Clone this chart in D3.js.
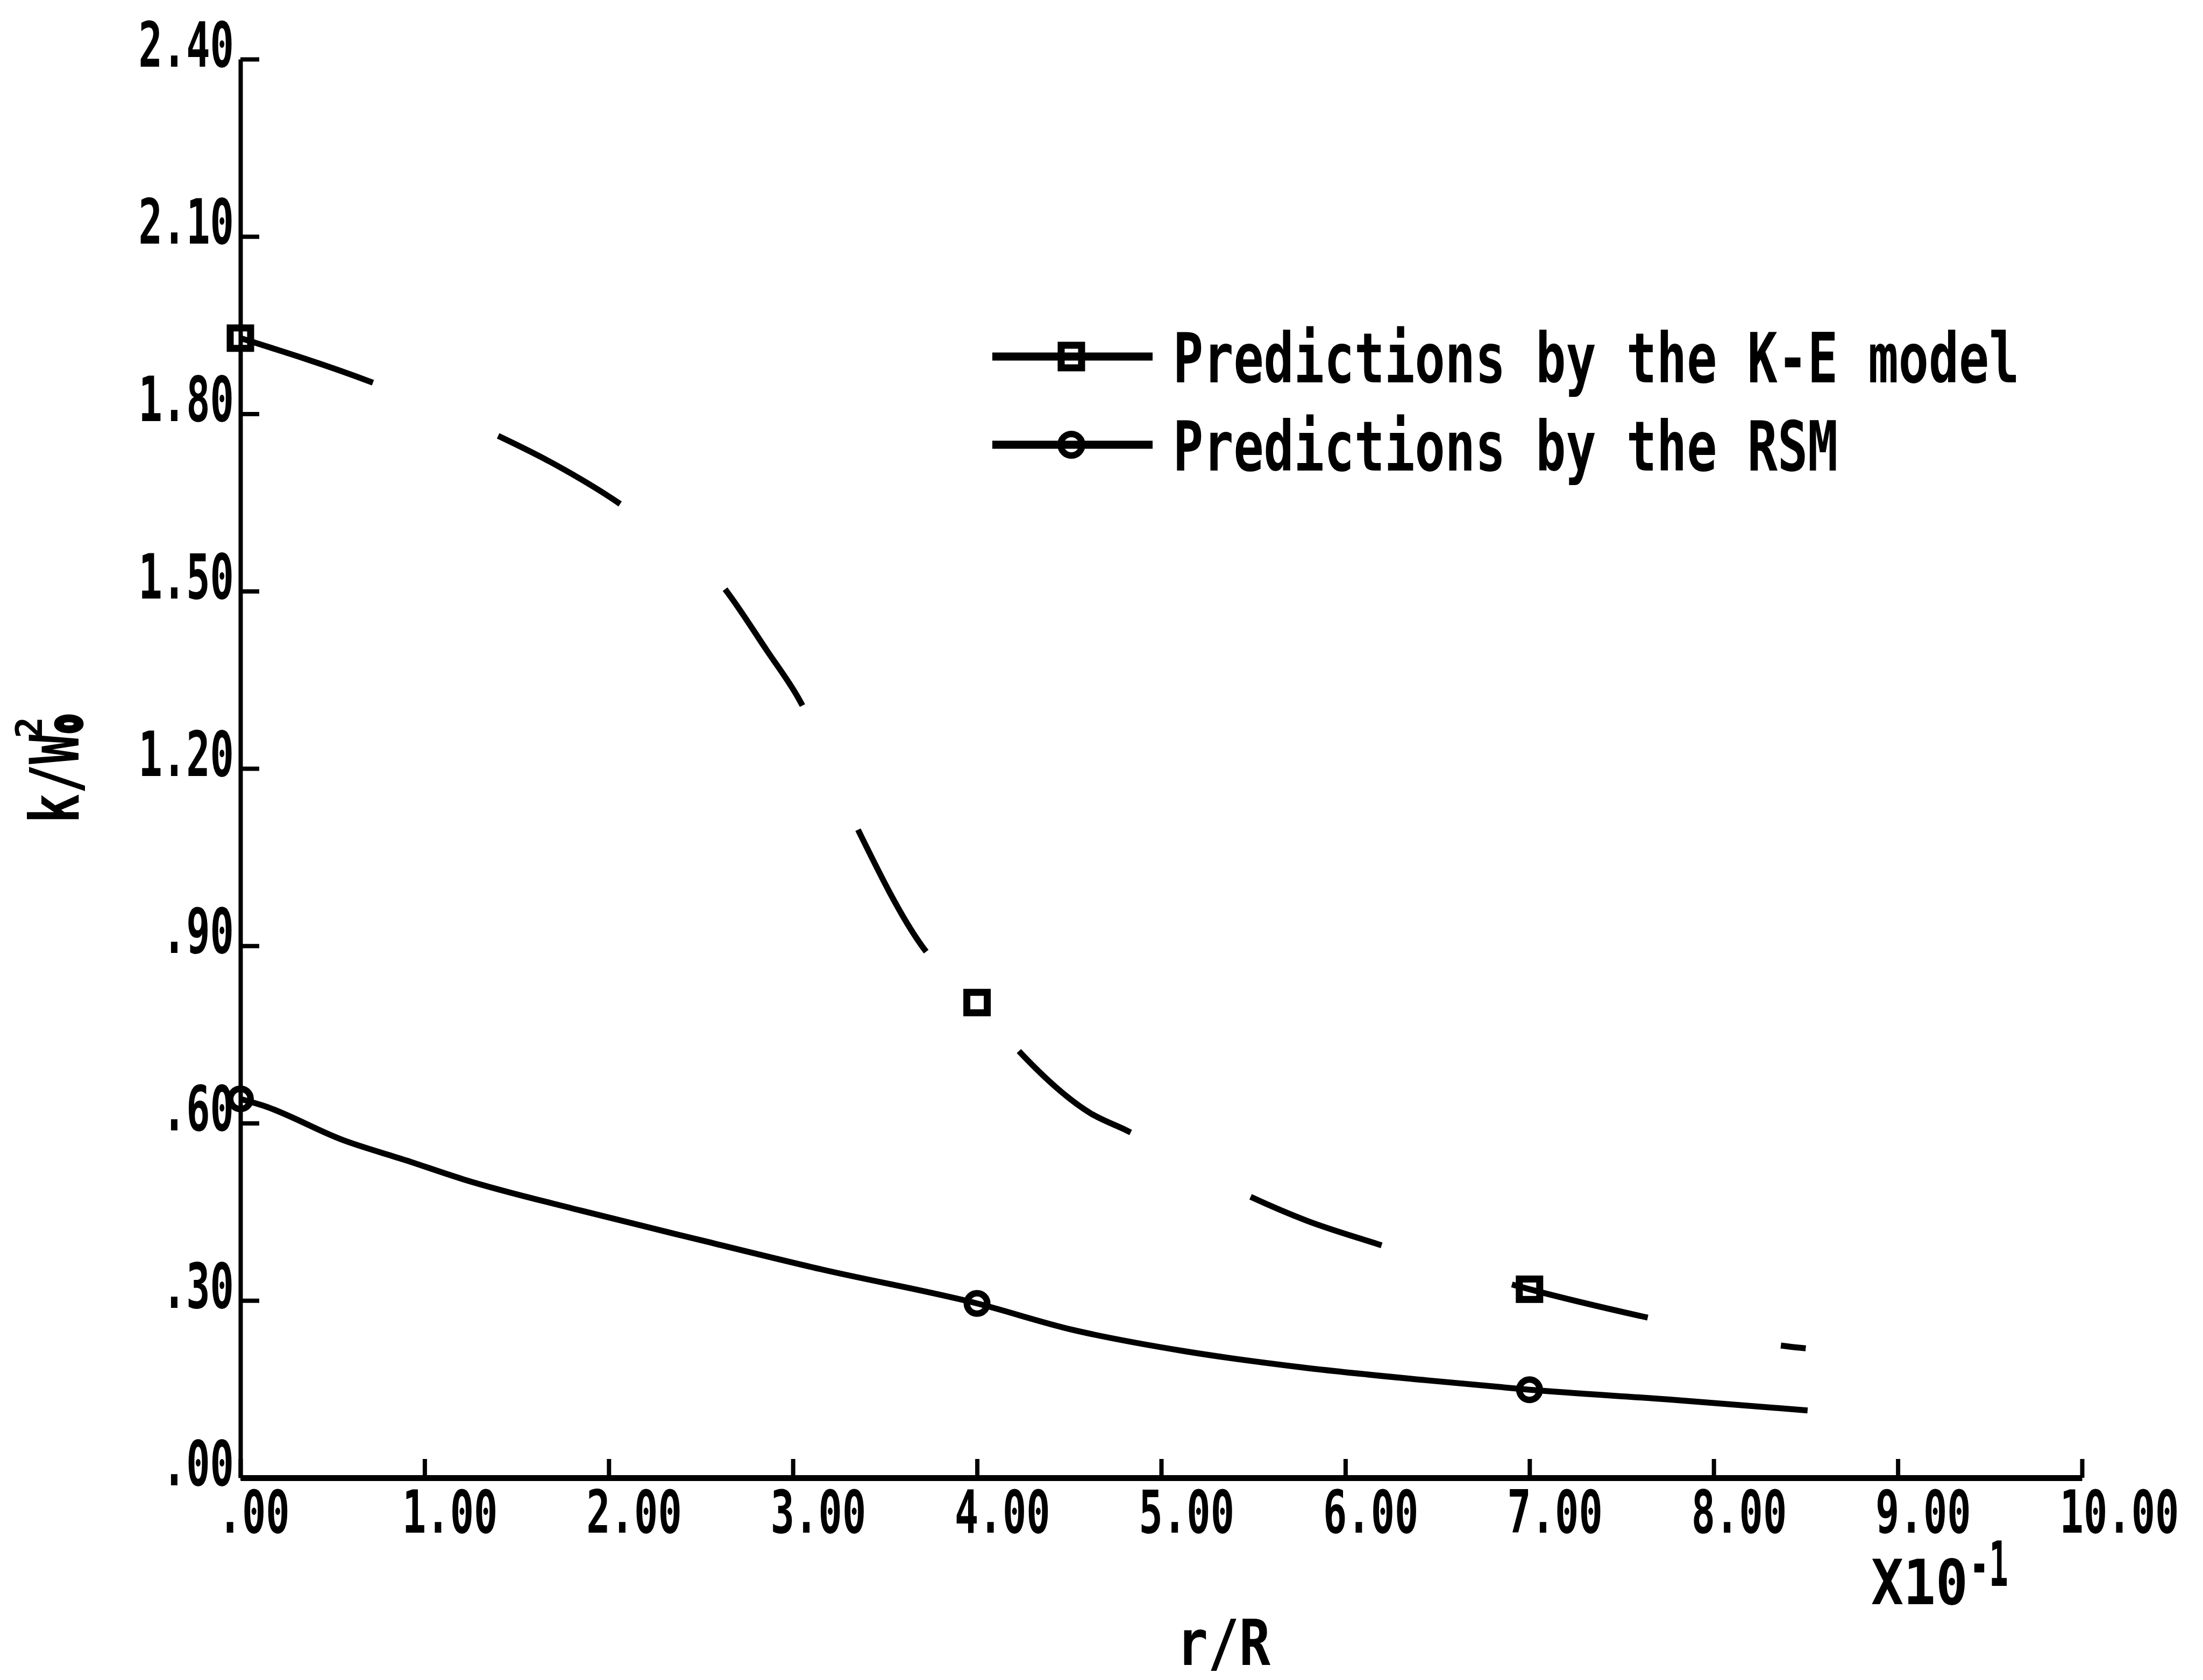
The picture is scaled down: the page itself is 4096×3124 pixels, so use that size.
<!DOCTYPE html>
<html>
<head>
<meta charset="utf-8">
<script src="https://cdn.jsdelivr.net/npm/d3@7"></script>
<style>
  body { margin: 0; background: #fff; }
  text { font-family: "DejaVu Sans Mono", "Liberation Mono", monospace; font-weight: bold; fill: #000; }
</style>
</head>
<body>
<div id="root"></div>
<script>
const width = 4096;
const height = 3124;

// axis ticks
const xTicks = [0, 1, 2, 3, 4, 5, 6, 7, 8, 9, 10];
const xTickLabels = [".00", "1.00", "2.00", "3.00", "4.00", "5.00", "6.00", "7.00", "8.00", "9.00", "10.00"];
const yTicks = [0, 0.3, 0.6, 0.9, 1.2, 1.5, 1.8, 2.1, 2.4];
const yTickLabels = [".00", ".30", ".60", ".90", "1.20", "1.50", "1.80", "2.10", "2.40"];

// K-E model curve (dashed) and its symbols
const keR = [0, 0.70, 1.37, 1.71, 2.05, 2.62, 2.86, 3.03, 3.34, 3.70, 4.00, 4.20, 4.62, 4.81, 5.46, 5.79, 6.17, 7.00, 7.67, 8.41, 8.50];
const keK = [1.928, 1.855, 1.767, 1.714, 1.650, 1.508, 1.399, 1.319, 1.105, 0.900, 0.804, 0.731, 0.616, 0.588, 0.479, 0.435, 0.396, 0.319, 0.269, 0.222, 0.219];
const keMarkR = [0, 4, 7];
const keMarkK = [1.928, 0.804, 0.319];

// RSM curve (solid) and its symbols
const rsmR = [0, 0.12, 0.56, 0.90, 1.21, 1.85, 2.50, 3.15, 4.00, 4.51, 5.13, 5.76, 6.44, 7.00, 7.78, 8.51];
const rsmK = [0.641, 0.630, 0.571, 0.537, 0.505, 0.452, 0.402, 0.353, 0.295, 0.251, 0.214, 0.187, 0.165, 0.149, 0.132, 0.114];
const rsmMarkR = [0, 4, 7];
const rsmMarkK = [0.641, 0.295, 0.149];

const seriesNames = ["Predictions by the K-E model", "Predictions by the RSM"];

const x = d3.scaleLinear().domain([0, 10]).range([447, 3871]);
const y = d3.scaleLinear().domain([0, 2.4]).range([2748, 110]);

const svg = d3.select("#root")
    .append("svg")
    .attr("width", width)
    .attr("height", height);

svg.append("rect")
    .attr("width", width)
    .attr("height", height)
    .attr("fill", "#fff");

// plotter font is narrow: squeeze a monospace face to the wanted advance
const MONO = 0.602;
const squeeze = (sel, tx, ty, fs, adv) => sel
    .attr("x", null).attr("y", null).attr("dy", null)
    .attr("font-size", fs)
    .attr("transform", `translate(${tx},${ty}) scale(${adv / (MONO * fs)},1)`);

// x axis, ticks pointing up
const xAxis = svg.append("g")
    .attr("transform", `translate(0,${y(0)})`)
    .call(d3.axisBottom(x).tickValues(xTicks).tickSize(-35).tickSizeOuter(0)
        .tickFormat((d, i) => xTickLabels[i]));
xAxis.select(".domain").attr("stroke", "#000").attr("stroke-width", 11);
xAxis.selectAll(".tick line").attr("stroke", "#000").attr("stroke-width", 8);
xAxis.selectAll(".tick text")
    .attr("text-anchor", "start")
    .call(squeeze, -42, 102, 111, 44.4);

// y axis, ticks pointing right
const yAxis = svg.append("g")
    .attr("transform", `translate(${x(0)},0)`)
    .call(d3.axisLeft(y).tickValues(yTicks).tickSize(-35).tickSizeOuter(0)
        .tickFormat((d, i) => yTickLabels[i]));
yAxis.select(".domain").attr("stroke", "#000").attr("stroke-width", 8);
yAxis.selectAll(".tick line").attr("stroke", "#000").attr("stroke-width", 8);
yAxis.selectAll(".tick text")
    .attr("text-anchor", "end")
    .call(squeeze, -12, 13, 115, 44.4);
svg.selectAll(".tick text").attr("fill", "#000").attr("font-family", null);

const line = d3.line()
    .x(d => x(d[0]))
    .y(d => y(d[1]))
    .curve(d3.curveMonotoneX);

svg.append("path")
    .datum(keR.map((r, i) => [r, keK[i]]))
    .attr("fill", "none")
    .attr("stroke", "#000")
    .attr("stroke-width", 11)
    .attr("stroke-dasharray", "260 253")
    .attr("d", line);

svg.append("path")
    .datum(rsmR.map((r, i) => [r, rsmK[i]]))
    .attr("fill", "none")
    .attr("stroke", "#000")
    .attr("stroke-width", 11)
    .attr("d", line);

svg.selectAll(".ke-mark")
    .data(keMarkR.map((r, i) => [r, keMarkK[i]]))
    .enter().append("rect")
    .attr("x", d => x(d[0]) - 19)
    .attr("y", d => y(d[1]) - 19)
    .attr("width", 38)
    .attr("height", 38)
    .attr("fill", "none")
    .attr("stroke", "#000")
    .attr("stroke-width", 13);

svg.selectAll(".rsm-mark")
    .data(rsmMarkR.map((r, i) => [r, rsmMarkK[i]]))
    .enter().append("circle")
    .attr("cx", d => x(d[0]))
    .attr("cy", d => y(d[1]))
    .attr("r", 19)
    .attr("fill", "none")
    .attr("stroke", "#000")
    .attr("stroke-width", 12);

// legend
const legend = svg.append("g").attr("transform", "translate(1845,663)");
seriesNames.forEach((name, i) => {
    const row = legend.append("g").attr("transform", `translate(0,${i * 164})`);
    row.append("line")
        .attr("x1", 0).attr("x2", 298)
        .attr("stroke", "#000").attr("stroke-width", 15);
    if (i === 0) {
        row.append("rect")
            .attr("x", 128).attr("y", -21).attr("width", 38).attr("height", 42)
            .attr("fill", "none").attr("stroke", "#000").attr("stroke-width", 13);
    } else {
        row.append("circle")
            .attr("cx", 147).attr("r", 20)
            .attr("fill", "none").attr("stroke", "#000").attr("stroke-width", 12);
    }
    row.append("text")
        .text(name)
        .call(squeeze, 336, 48, 129, 56.2);
});

// axis titles
svg.append("text")
    .attr("text-anchor", "middle")
    .text("r/R")
    .call(squeeze, 2275, 3096, 118, 58);

svg.append("text")
    .text("X10")
    .call(squeeze, 3479, 2983, 115, 60);
svg.append("text")
    .text("-1")
    .call(squeeze, 3662, 2949, 115, 36);

const yTitle = svg.append("g").attr("transform", "translate(146,1531) rotate(-90)");
yTitle.append("text")
    .text("k/W")
    .call(squeeze, 0, 0, 127, 55);
yTitle.append("text")
    .text("2")
    .call(squeeze, 158, -68, 68, 40);
yTitle.append("text")
    .attr("stroke", "#000")
    .attr("stroke-width", 9)
    .text("o")
    .call(squeeze, 168, 4, 81, 34);
</script>
</body>
</html>
